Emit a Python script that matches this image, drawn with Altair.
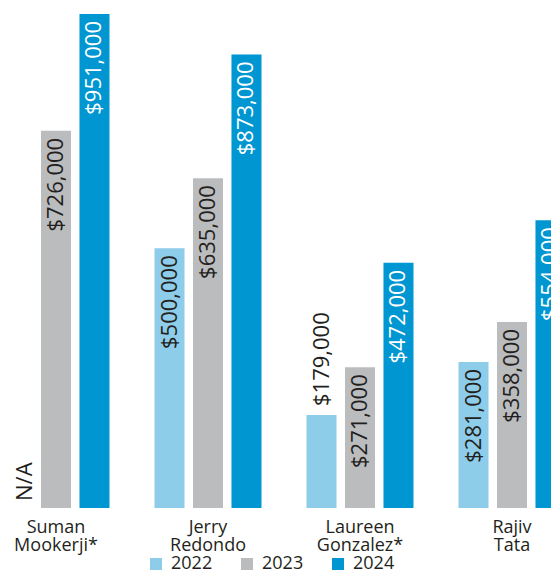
import altair as alt
import pandas as pd

names = ["Suman Mookerji*", "Jerry Redondo", "Laureen Gonzalez*", "Rajiv Tata"]
years = ["2022", "2023", "2024"]
v2022 = [None, 500000, 179000, 281000]
v2023 = [726000, 635000, 271000, 358000]
v2024 = [951000, 873000, 472000, 554000]
colors = ["#8ecdea", "#bbbcbe", "#0096d1"]

rows = []
for i, n in enumerate(names):
    for y, vals in zip(years, [v2022, v2023, v2024]):
        rows.append({"name": n, "year": y, "value": vals[i]})
df = pd.DataFrame(rows)

DARK = "#231f20"
FONT = "Open Sans"

x = alt.X("name:N", sort=names, title=None,
          scale=alt.Scale(range=[-28, 580], paddingInner=0, paddingOuter=0),
          axis=alt.Axis(domain=False, ticks=False, grid=False, labelAngle=0,
                        labelExpr="split(datum.label, ' ')", labelFont=FONT,
                        labelFontSize=18, labelColor=DARK, labelPadding=10,
                        labelLineHeight=18, labelBaseline="top"))
xo = alt.XOffset("year:N", sort=years,
                 scale=alt.Scale(paddingInner=0.22, paddingOuter=0.585))
y = alt.Y("value:Q", scale=alt.Scale(domain=[0, 962500], nice=False), axis=None)

base = alt.Chart(df)

bars = base.mark_bar().encode(
    x=x, xOffset=xo, y=y,
    color=alt.Color("year:N", sort=years,
                    scale=alt.Scale(domain=years, range=colors),
                    legend=alt.Legend(orient="none", legendX=139, legendY=547,
                                      direction="horizontal", title=None,
                                      symbolType="square", symbolSize=144,
                                      symbolStrokeWidth=0, symbolOpacity=1,
                                      labelFont=FONT, labelFontSize=18,
                                      labelColor=DARK, labelOffset=6,
                                      columnPadding=25, padding=0)),
)

inside = base.transform_filter(
    "isValid(datum.value) && datum.value >= 200000"
).mark_text(angle=270, align="right", baseline="middle", dx=-7,
            fontSize=22, font=FONT).encode(
    x=x, xOffset=xo, y=y,
    text=alt.Text("value:Q", format="$,.0f"),
    color=alt.condition(alt.datum.year == "2024", alt.value("white"), alt.value(DARK)),
)

outside = base.transform_filter(
    "isValid(datum.value) && datum.value < 200000"
).mark_text(angle=270, align="left", baseline="middle", dx=9,
            fontSize=22, font=FONT, color=DARK).encode(
    x=x, xOffset=xo, y=y,
    text=alt.Text("value:Q", format="$,.0f"),
)

na = base.transform_filter(
    "!isValid(datum.value)"
).mark_text(angle=270, align="left", baseline="middle", dx=7, dy=7,
            fontSize=22, font=FONT, color=DARK).encode(
    x=x, xOffset=xo, y=alt.datum(0),
    text=alt.value("N/A"),
)

chart = alt.layer(bars, inside, outside, na).properties(
    width=543, height=500,
    autosize=alt.AutoSizeParams(type="none"),
    padding={"left": 0, "top": 0, "right": 0, "bottom": 64},
).configure_view(stroke=None)

chart.save("out.html", embed_options={"renderer": "svg", "actions": False})
